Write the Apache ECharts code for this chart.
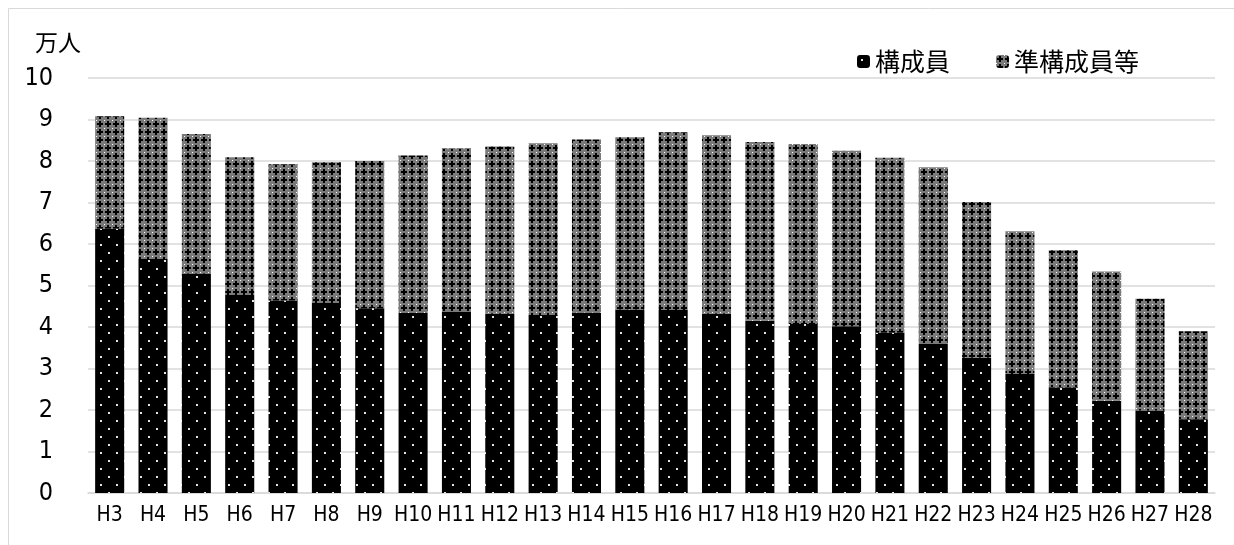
<!DOCTYPE html>
<html>
<head>
<meta charset="utf-8">
<script src="https://cdn.jsdelivr.net/npm/echarts@6/dist/echarts.min.js"></script>
<style>
html, body { margin: 0; padding: 0; background: #fff; }
#chart { width: 1234px; height: 545px; }
</style>
</head>
<body>
<div id="chart"></div>
<script>
// 年度
var categories = ['H3','H4','H5','H6','H7','H8','H9','H10','H11','H12','H13','H14','H15',
	'H16','H17','H18','H19','H20','H21','H22','H23','H24','H25','H26','H27','H28'];

// 構成員（万人）
var members = [6.37, 5.64, 5.29, 4.77, 4.64, 4.58, 4.45, 4.34, 4.36, 4.32, 4.29, 4.35, 4.42,
	4.41, 4.32, 4.15, 4.07, 4.02, 3.86, 3.59, 3.26, 2.87, 2.54, 2.22, 1.99, 1.78];

// 準構成員等（万人）
var associates = [2.71, 3.40, 3.36, 3.32, 3.28, 3.39, 3.55, 3.79, 3.94, 4.03, 4.14, 4.17, 4.15,
	4.28, 4.30, 4.31, 4.34, 4.23, 4.22, 4.26, 3.75, 3.44, 3.31, 3.12, 2.69, 2.12];

var yTicks = [0, 10, 1];
var seriesNames = ['構成員', '準構成員等'];

// black with white dots
function dotPattern() {
	var c = document.createElement('canvas');
	c.width = 16; c.height = 16;
	var ctx = c.getContext('2d');
	ctx.fillStyle = '#000';
	ctx.fillRect(0, 0, 16, 16);
	ctx.fillStyle = '#e6e6e6';
	ctx.fillRect(4, 4, 2, 2);
	ctx.fillRect(12, 12, 2, 2);
	return c;
}

// dark cross / diamond pattern
function crossPattern() {
	var c = document.createElement('canvas');
	c.width = 8; c.height = 8;
	var ctx = c.getContext('2d');
	ctx.fillStyle = '#7a7a7a';
	ctx.fillRect(0, 0, 8, 8);
	ctx.fillStyle = '#000';
	ctx.fillRect(3, 1, 2, 6);
	ctx.fillRect(1, 3, 6, 2);
	ctx.fillStyle = '#fff';
	ctx.fillRect(0, 0, 1, 1);
	return c;
}

var fontNarrow = '"DejaVu Sans Condensed", "DejaVu Sans", sans-serif';
var fontJp = '"Noto Sans CJK JP", sans-serif';

var chart = echarts.init(document.getElementById('chart'));
var option = {
	backgroundColor: '#fff',
	animation: false,
	graphic: [{
		type: 'rect',
		shape: { x: 8.5, y: 8.5, width: 1300, height: 600 },
		style: { fill: 'none', stroke: '#d9d9d9', lineWidth: 1 }
	}, {
		type: 'text',
		left: 35, top: 31,
		style: { text: '万人', font: '23px ' + fontJp, fill: '#000' }
	}],
	legend: {
		data: seriesNames,
		top: 44, left: 852,
		itemWidth: 13, itemHeight: 13,
		itemGap: 46,
		textStyle: { fontFamily: fontJp, fontSize: 25, color: '#000' }
	},
	grid: { left: 88, right: 19, top: 78, bottom: 52, containLabel: false },
	xAxis: {
		type: 'category',
		data: categories,
		axisLine: { lineStyle: { color: '#d9d9d9', width: 1.5 } },
		axisTick: { show: false },
		axisLabel: { fontFamily: fontNarrow, fontSize: 21, color: '#000', margin: 12, interval: 0 }
	},
	yAxis: {
		type: 'value',
		min: yTicks[0], max: yTicks[1], interval: yTicks[2],
		axisLine: { show: false },
		axisTick: { show: false },
		splitLine: { lineStyle: { color: '#d9d9d9', width: 1.5 } },
		axisLabel: { fontFamily: fontNarrow, fontSize: 25, color: '#000', margin: 35 }
	},
	series: [{
		name: seriesNames[0],
		type: 'bar',
		stack: 'total',
		data: members,
		barCategoryGap: '33%',
		itemStyle: { color: { image: dotPattern(), repeat: 'repeat' } }
	}, {
		name: seriesNames[1],
		type: 'bar',
		stack: 'total',
		data: associates,
		barCategoryGap: '33%',
		itemStyle: { color: { image: crossPattern(), repeat: 'repeat' } }
	}]
};
chart.setOption(option);
</script>
</body>
</html>
